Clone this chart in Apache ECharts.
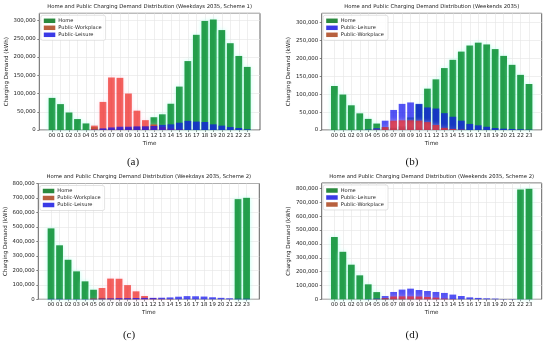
<!DOCTYPE html>
<html><head><meta charset="utf-8">
<script src="https://cdn.jsdelivr.net/npm/echarts@6/dist/echarts.min.js"></script>
<style>html,body{margin:0;padding:0;background:#fff}#c{width:550px;height:344px}</style>
</head><body><div id="c"></div>
<script>
var hours = ['00','01','02','03','04','05','06','07','08','09','10','11','12','13','14','15','16','17','18','19','20','21','22','23'];

// (a) Weekdays 2035, Scheme 1
var aHome = [88000,71000,48000,30000,18000,8000,3000,3000,4000,6000,8000,10000,35000,43000,72000,119000,189000,261000,299000,303000,274000,238000,203000,173000];
var aWork = [0,0,0,0,0,12000,77000,144000,143000,100000,53000,27000,15000,8000,4000,2000,0,0,0,0,0,0,0,0];
var aLeis = [0,0,0,0,0,1000,4500,7000,9000,9000,10000,10000,11000,14000,15500,20000,25000,23000,22000,15500,12000,8000,5500,2000];

// (b) Weekends 2035
var bHome = [123000,99000,69000,46500,31000,18000,8000,6000,10000,35000,72000,115500,141500,173000,196000,219000,236000,244000,239000,226000,207000,182000,154000,128500];
var bLeis = [0,0,0,0,1000,5000,26000,56000,73000,77000,73000,63000,60000,47000,37000,26000,17000,13000,9000,5500,3700,2800,2000,1000];
var bWork = [0,0,0,0,0,1000,8000,26000,27000,27000,26000,22000,14000,6000,3000,1000,0,0,0,0,0,0,0,0];

// (c) Weekdays 2035, Scheme 2
var cHome = [490000,373000,273000,193000,124000,66000,10000,5000,3000,2000,1000,0,0,0,0,0,0,0,0,0,0,0,692000,701000];
var cWork = [0,0,0,0,0,5000,78000,143000,142000,98000,55000,23000,8000,4000,2000,0,0,0,0,0,0,0,0,0];
var cLeis = [3000,3000,2000,2000,2000,3000,5000,6000,8000,8000,9000,10000,10000,11000,13000,18000,22000,21000,19000,14000,10000,7000,4000,4000];

// (d) Weekends 2035, Scheme 2
var dHome = [450000,343000,250000,173000,108000,52000,8000,5000,3000,2000,1000,0,0,0,0,0,0,0,0,0,0,0,793000,798000];
var dLeis = [0,0,0,0,2000,5000,24000,53000,70000,77000,67000,60000,53000,46000,34000,24000,14000,10000,7000,5000,2000,2000,1000,1000];
var dWork = [0,0,0,0,0,2000,8000,20000,21000,21000,20000,17000,12000,5000,2000,0,0,0,0,0,0,0,0,0];

var titles = [
  'Home and Public Charging Demand Distribution (Weekdays 2035, Scheme 1)',
  'Home and Public Charging Demand Distribution (Weekends 2035)',
  'Home and Public Charging Demand Distribution (Weekdays 2035, Scheme 2)',
  'Home and Public Charging Demand Distribution (Weekends 2035, Scheme 2)'
];
var panelLabels = ['(a)','(b)','(c)','(d)'];
var yMax = [320000, 326000, 800000, 840000];
var yStep = [50000, 50000, 100000, 100000];

var HOME = 'Home', WORK = 'Public-Workplace', LEIS = 'Public-Leisure';
var panels = [
  {order:[[HOME,aHome],[WORK,aWork],[LEIS,aLeis]]},
  {order:[[HOME,bHome],[LEIS,bLeis],[WORK,bWork]]},
  {order:[[HOME,cHome],[WORK,cWork],[LEIS,cLeis]]},
  {order:[[HOME,dHome],[LEIS,dLeis],[WORK,dWork]]}
];
var boxes = [
  {l:39.3, r:260, t:13.3, b:130},
  {l:321.7, r:541.7, t:13.3, b:130},
  {l:38.3, r:259.3, t:183.5, b:299.3},
  {l:321.7, r:541.7, t:183, b:299.3}
];
var labelPos = [[133,162],[412,162],[129,335],[412,335]];

var styles = {};
styles[HOME] = {color:'#12933a', opacity:0.9, legendColor:'#2a8a3e', shadow:'rgba(175,255,235,0.95)'};
styles[WORK] = {color:'#ee2a22', opacity:0.72, legendColor:'#b8603e', shadow:'rgba(255,200,225,0.8)'};
styles[LEIS] = {color:'#1010f0', opacity:0.72, legendColor:'#3a3ae6', shadow:'rgba(0,0,0,0)'};

var cats = [''].concat(hours).concat(['']);
var gridCats = [];
for (var i = 0; i < 2*cats.length+1; i++) gridCats.push(String(i));
var W = 550, H = 344;
var FONT = 'DejaVu Sans';
var fmt = function(v){ return Math.round(v).toString().replace(/\B(?=(\d{3})+(?!\d))/g, ','); };

var option = {animation:false, grid:[], xAxis:[], yAxis:[], series:[], legend:[], graphic:[]};
boxes.forEach(function(bx, p){
  option.grid.push({left:bx.l, top:bx.t, width:bx.r-bx.l, height:bx.b-bx.t, show:true, borderColor:'#3a3a3a', borderWidth:0.8, backgroundColor:'transparent', containLabel:false});
  option.xAxis.push({type:'category', gridIndex:p, data:cats, boundaryGap:true,
    axisLine:{show:false},
    axisTick:{show:true, alignWithLabel:true, length:2, lineStyle:{color:'#333', width:0.6}, interval:function(i){return i>0 && i<cats.length-1;}},
    axisLabel:{fontFamily:FONT, fontSize:5.4, color:'#222', margin:3, interval:0},
    splitLine:{show:false},
    name:'Time', nameLocation:'middle', nameGap:10.5, nameTextStyle:{fontFamily:FONT, fontSize:5.6, color:'#222'}
  });
  option.xAxis.push({type:'category', gridIndex:p, data:gridCats, boundaryGap:false, show:true,
    axisLine:{show:false}, axisTick:{show:false}, axisLabel:{show:false},
    splitLine:{show:true, interval:function(i){return (i%2===1) && i>=3 && i<=2*cats.length-3;}, lineStyle:{color:'#e4e4e4', width:0.6}}
  });
  option.yAxis.push({type:'value', gridIndex:p, min:0, max:yMax[p], interval:yStep[p],
    axisLine:{show:false},
    axisTick:{show:true, length:2, lineStyle:{color:'#333', width:0.6}},
    axisLabel:{fontFamily:FONT, fontSize:5.4, color:'#222', margin:3.5, formatter:fmt, showMaxLabel:(yMax[p] % yStep[p] === 0)},
    splitLine:{show:true, lineStyle:{color:'#e4e4e4', width:0.6}},
    name:'Charging Demand (kWh)', nameLocation:'middle', nameGap:30, nameRotate:90,
    nameTextStyle:{fontFamily:FONT, fontSize:5.6, color:'#222'}
  });
  var legendData = [];
  panels[p].order.forEach(function(pair){
    var name = pair[0], vals = pair[1], st = styles[name];
    option.series.push({type:'bar', name:name, xAxisIndex:p*2, yAxisIndex:p,
      data:[null].concat(vals).concat([null]), barWidth:'80%', barGap:'-100%',
      itemStyle:{color:st.color, opacity:st.opacity, shadowColor:st.shadow, shadowBlur:4}, silent:true});
    legendData.push({name:name, itemStyle:{color:st.legendColor, opacity:1, shadowBlur:0}});
  });
  option.legend.push({data:legendData, orient:'vertical', left:bx.l+1.5, top:bx.t+2,
    itemWidth:11.5, itemHeight:4.5, itemGap:2, icon:'rect', selectedMode:false,
    padding:[3,4,3,3], backgroundColor:'rgba(255,255,255,0.85)', borderColor:'#d0d0d0', borderWidth:0.6, borderRadius:2,
    textStyle:{fontFamily:FONT, fontSize:5.1, color:'#222', padding:[0,0,0,-2]}});
  option.graphic.push({type:'text', silent:true, style:{text:titles[p], x:(bx.l+bx.r)/2, y:bx.t-6.5, textAlign:'center', textVerticalAlign:'middle', font:'5.3px "DejaVu Sans"', fill:'#222'}});
  option.graphic.push({type:'text', silent:true, style:{text:panelLabels[p], x:labelPos[p][0], y:labelPos[p][1], textAlign:'center', textVerticalAlign:'middle', font:'11px "Liberation Serif"', fill:'#111'}});
});

var chart = echarts.init(document.getElementById('c'), null, {renderer:'canvas', width:W, height:H});
chart.setOption(option);
</script></body></html>
